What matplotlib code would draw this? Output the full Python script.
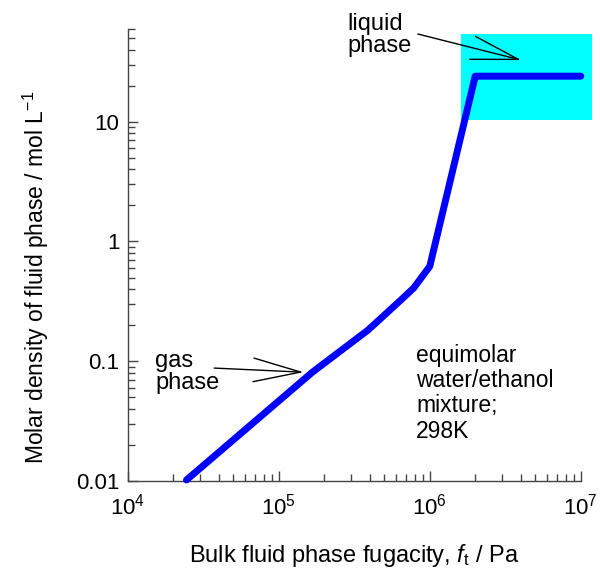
import matplotlib
matplotlib.use("Agg")
import matplotlib.pyplot as plt
from matplotlib.patches import Rectangle
from matplotlib.ticker import LogLocator, LogFormatterMathtext, FixedLocator, FixedFormatter

plt.rcParams['font.family'] = ['Liberation Sans', 'DejaVu Sans']
plt.rcParams['mathtext.fontset'] = 'custom'
plt.rcParams['mathtext.rm'] = 'Liberation Sans'
plt.rcParams['mathtext.it'] = 'Liberation Sans:italic'

# bulk fugacity (Pa) and molar density (mol/L)
fugacity = [2.45e4, 1.67e5, 3.9e5, 6.43e5, 7.84e5, 1e6, 2e6, 1e7]
density = [0.0102, 0.081, 0.182, 0.324, 0.41, 0.62, 24, 24]

y_ticks = [0.01, 0.1, 1, 10]
y_labels = ["0.01", "0.1", "1", "10"]

# liquid-phase region (shaded)
box_x = [1.62e6, 1.18e7]
box_y = [10.4, 54]

fig = plt.figure(figsize=(6, 5.74), dpi=100)
ax = fig.add_axes([0.2128, 0.162, 0.968 - 0.2128, 0.9503 - 0.162])

ax.add_patch(Rectangle((box_x[0], box_y[0]), box_x[1] - box_x[0], box_y[1] - box_y[0],
                       facecolor="#00ffff", edgecolor="none", clip_on=False, zorder=1))

ax.plot(fugacity, density, color="#0000ff", lw=5, solid_capstyle="round",
        solid_joinstyle="round", clip_on=False, zorder=3)

ax.set_xscale("log")
ax.set_yscale("log")
ax.set_xlim(1e4, 1e7)
ax.set_ylim(0.01, 60)

ax.yaxis.set_major_locator(FixedLocator(y_ticks))
ax.yaxis.set_major_formatter(FixedFormatter(y_labels))
ax.yaxis.set_minor_locator(LogLocator(base=10, subs=range(2, 10), numticks=20))
ax.xaxis.set_major_locator(LogLocator(base=10, numticks=10))
ax.xaxis.set_major_formatter(LogFormatterMathtext())
ax.xaxis.set_minor_locator(LogLocator(base=10, subs=range(2, 10), numticks=20))

for s in ["top", "right"]:
    ax.spines[s].set_visible(False)
for s in ["left", "bottom"]:
    ax.spines[s].set_color("#444444")
    ax.spines[s].set_linewidth(1)

ax.tick_params(which="both", direction="in", colors="#444444", labelcolor="black",
               labelsize=16, width=1)
ax.tick_params(which="major", length=7.5, pad=6)
ax.tick_params(which="minor", length=5)
ax.tick_params(axis="x", which="major", pad=9)

ax.set_xlabel(r"Bulk fluid phase fugacity, $\mathit{f}_{\mathrm{t}}$ / Pa", fontsize=17, labelpad=16)
ax.set_ylabel(r"Molar density of fluid phase / mol L$^{-1}$", fontsize=16.5)
ax.yaxis.set_label_coords(-0.169, 0.45)

# annotations with open arrowheads
arrow = dict(arrowstyle="->,head_length=3.4,head_width=0.85", color="black", lw=1,
             shrinkA=0, shrinkB=0)
ax.annotate("", xy=(1.46e5, 0.081), xytext=(3.74e4, 0.0877), arrowprops=arrow)
ax.text(1.52e4, 0.081, "gas\nphase", fontsize=17, ha="left", va="center", linespacing=1.02)

ax.annotate("", xy=(4.03e6, 32.7), xytext=(8.34e5, 54), arrowprops=arrow,
            annotation_clip=False)
ax.text(2.85e5, 53, "liquid\nphase", fontsize=17, ha="left", va="center", linespacing=1.02)

ax.text(8.1e5, 0.054, "equimolar\nwater/ethanol\nmixture;\n298K", fontsize=16.5,
        ha="left", va="center", linespacing=1.12)

fig.savefig("out.png", dpi=100)
